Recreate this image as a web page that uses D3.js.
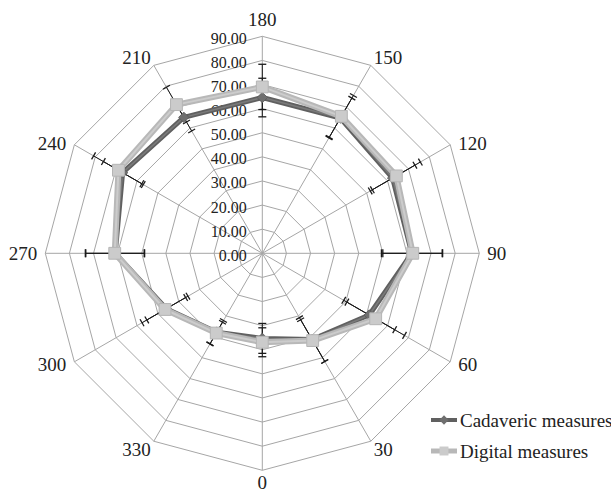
<!DOCTYPE html>
<html>
<head>
<meta charset="utf-8">
<script src="https://cdn.jsdelivr.net/npm/d3@7"></script>
<style>
  html, body { margin: 0; padding: 0; background: #fff; }
  svg { display: block; }
  text { font-family: "Liberation Serif", "Times New Roman", serif; fill: #222; }
</style>
</head>
<body>
<svg id="chart" width="611" height="493"></svg>
<script>
// Angular categories, clockwise from the top spoke
const categories = ["180", "150", "120", "90", "60", "30", "0", "330", "300", "270", "240", "210"];
// Radial tick values and their labels
const tickValues = [0, 10, 20, 30, 40, 50, 60, 70, 80, 90];
const tickLabels = ["0.00", "10.00", "20.00", "30.00", "40.00", "50.00", "60.00", "70.00", "80.00", "90.00"];
// Series means
const cadaveric = [64.6, 64.8, 62.4, 62.0, 51.2, 41.3, 35.3, 37.8, 46.0, 61.0, 66.9, 65.1];
const digital   = [69.0, 65.6, 64.2, 62.4, 54.3, 41.8, 36.9, 38.2, 46.6, 61.2, 68.9, 71.2];
// Standard deviations shown as error bars
const cadavericSD = [8.0, 9.5, 10.7, 12.6, 12.2, 10.5, 6.2, 5.6, 9.3, 12.2, 9.2, 6.5];
const digitalSD   = [9.4, 10.0, 11.5, 12.4, 13.8, 10.0, 6.0, 5.2, 11.0, 12.2, 11.9, 8.3];
const seriesNames = ["Cadaveric measures", "Digital measures"];

const svg = d3.select("#chart");
const cx = 262.3, cy = 253.3;
const r = d3.scaleLinear().domain([0, 90]).range([0, 217]);
const angle = d3.scalePoint().domain(d3.range(categories.length)).range([0, 2 * Math.PI * (categories.length - 1) / categories.length]);

const dirOf = i => { const a = angle(i); return [Math.sin(a), -Math.cos(a)]; };
const pt = (i, v) => { const d = dirOf(i); return [cx + r(v) * d[0], cy + r(v) * d[1]]; };

const g = svg.append("g");

// Grid rings (polygons)
tickValues.filter(v => v > 0).forEach(v => {
  g.append("path")
    .attr("d", d3.line()(categories.map((c, i) => pt(i, v))) + "Z")
    .attr("fill", "none").attr("stroke", "#a6a6a6").attr("stroke-width", 1);
});
// Spokes
categories.forEach((c, i) => {
  const [x, y] = pt(i, 90);
  g.append("line").attr("x1", cx).attr("y1", cy).attr("x2", x).attr("y2", y)
    .attr("stroke", "#a6a6a6").attr("stroke-width", 1);
});

// Radial tick labels
tickValues.forEach((v, k) => {
  g.append("text")
    .attr("x", cx - 15.5).attr("y", cy - r(v) + 7.5)
    .attr("text-anchor", "end").attr("font-size", 16)
    .text(tickLabels[k]);
});

// Category labels
categories.forEach((c, i) => {
  const [dx, dy] = dirOf(i);
  const [vx, vy] = pt(i, 90);
  let x = vx, y, anchor = "middle";
  if (Math.abs(dx) < 0.01) {
    y = dy < 0 ? vy - 10 : vy + 19;
  } else {
    const steep = Math.abs(dy) > 0.8;
    anchor = dx > 0 ? "start" : "end";
    x = vx + (dx > 0 ? 1 : -1) * (steep ? 3 : 8);
    const centerY = steep ? vy + (dy < 0 ? -8 : 8) : vy + dy * 4;
    y = centerY + 7;
  }
  g.append("text").attr("x", x).attr("y", y).attr("text-anchor", anchor)
    .attr("font-size", 19).text(c);
});

// Error bars
function errorBars(vals, sds) {
  vals.forEach((v, i) => {
    const [dx, dy] = dirOf(i);
    const lo = pt(i, v - sds[i]), hi = pt(i, v + sds[i]);
    g.append("line").attr("x1", lo[0]).attr("y1", lo[1]).attr("x2", hi[0]).attr("y2", hi[1])
      .attr("stroke", "#1a1a1a").attr("stroke-width", 1);
    const px = -dy * 4, py = dx * 4;
    [lo, hi].forEach(p => {
      g.append("line").attr("x1", p[0] - px).attr("y1", p[1] - py)
        .attr("x2", p[0] + px).attr("y2", p[1] + py)
        .attr("stroke", "#1a1a1a").attr("stroke-width", 1.3);
    });
  });
}
errorBars(cadaveric, cadavericSD);
errorBars(digital, digitalSD);

const radial = d3.lineRadial().angle((d, i) => angle(i)).radius(d => r(d)).curve(d3.curveLinearClosed);

const diamond = d3.symbol().type(d3.symbolDiamond2).size(70);
const square = d3.symbol().type(d3.symbolSquare).size(140);

// Cadaveric series
const cad = svg.append("g").attr("transform", `translate(${cx},${cy})`);
cad.append("path").attr("d", radial(cadaveric)).attr("fill", "none")
  .attr("stroke", "#606060").attr("stroke-width", 5).attr("stroke-linejoin", "round");
cad.append("path").attr("d", radial(cadaveric)).attr("fill", "none")
  .attr("stroke", "#7a7a7a").attr("stroke-width", 1.5).attr("stroke-linejoin", "round");
cadaveric.forEach((v, i) => {
  const [x, y] = pt(i, v);
  svg.append("path").attr("d", diamond()).attr("transform", `translate(${x},${y})`)
    .attr("fill", "#6f6f6f").attr("stroke", "#5a5a5a").attr("stroke-width", 0.8);
});

// Digital series
const dig = svg.append("g").attr("transform", `translate(${cx},${cy})`);
dig.append("path").attr("d", radial(digital)).attr("fill", "none")
  .attr("stroke", "#b8b8b8").attr("stroke-width", 6).attr("stroke-linejoin", "round");
dig.append("path").attr("d", radial(digital)).attr("fill", "none")
  .attr("stroke", "#cccccc").attr("stroke-width", 2).attr("stroke-linejoin", "round");
digital.forEach((v, i) => {
  const [x, y] = pt(i, v);
  svg.append("path").attr("d", square()).attr("transform", `translate(${x},${y})`)
    .attr("fill", "#cbcbcb").attr("stroke", "#b5b5b5").attr("stroke-width", 1);
});

// Legend
const legend = svg.append("g");
const legendRows = [
  { name: seriesNames[0], y: 420, stroke: "#606060", width: 4, sym: d3.symbol().type(d3.symbolDiamond2).size(55), fill: "#6f6f6f" },
  { name: seriesNames[1], y: 451, stroke: "#b8b8b8", width: 5, sym: d3.symbol().type(d3.symbolSquare).size(80), fill: "#cbcbcb" }
];
legendRows.forEach(row => {
  legend.append("line").attr("x1", 431).attr("x2", 457).attr("y1", row.y).attr("y2", row.y)
    .attr("stroke", row.stroke).attr("stroke-width", row.width);
  legend.append("path").attr("d", row.sym())
    .attr("transform", `translate(444,${row.y})`).attr("fill", row.fill);
  legend.append("text").attr("x", 460).attr("y", row.y + 7).attr("font-size", 19).text(row.name);
});
</script>
</body>
</html>
